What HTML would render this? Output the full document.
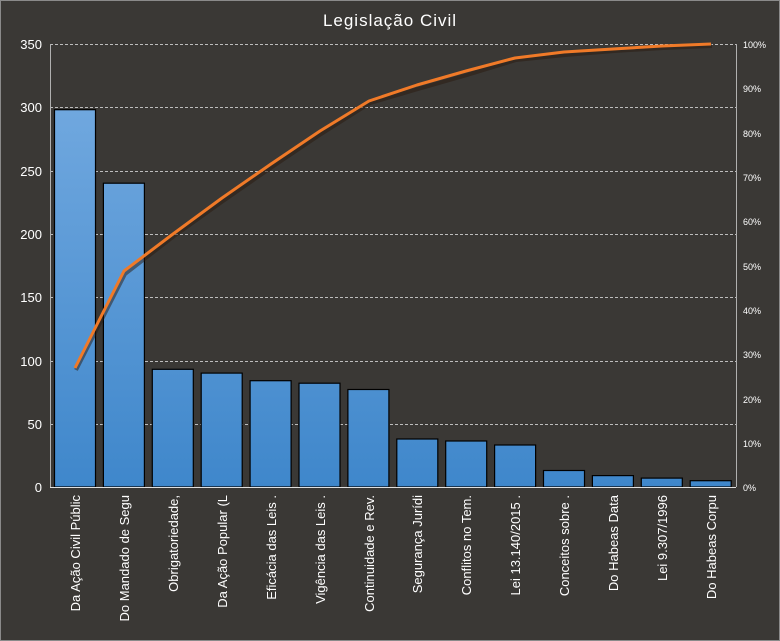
<!DOCTYPE html>
<html><head><meta charset="utf-8"><style>
html,body{margin:0;padding:0;background:#3a3835;}
svg{display:block;font-family:"Liberation Sans","DejaVu Sans",sans-serif;}
</style></head><body>
<svg width="780" height="641" viewBox="0 0 780 641" xmlns="http://www.w3.org/2000/svg">
<defs>
<linearGradient id="g" gradientUnits="userSpaceOnUse" x1="0" y1="44" x2="0" y2="487">
<stop offset="0" stop-color="#78ade2"/><stop offset="1" stop-color="#3f87cb"/>
</linearGradient>
</defs>
<rect x="0.5" y="0.5" width="779" height="640" fill="#3a3835" stroke="#8a8a8a"/>
<text x="390" y="26" fill="#ffffff" font-size="17" text-anchor="middle" letter-spacing="1">Legislação  Civil</text>
<g stroke="#bdbdbd" stroke-width="1" stroke-dasharray="3,2" fill="none">
<line x1="50" y1="44.5" x2="736" y2="44.5"/>
<line x1="50" y1="107.5" x2="736" y2="107.5"/>
<line x1="50" y1="171.5" x2="736" y2="171.5"/>
<line x1="50" y1="234.5" x2="736" y2="234.5"/>
<line x1="50" y1="297.5" x2="736" y2="297.5"/>
<line x1="50" y1="361.5" x2="736" y2="361.5"/>
<line x1="50" y1="424.5" x2="736" y2="424.5"/>
</g>
<line x1="50.5" y1="44" x2="50.5" y2="487" stroke="#b0b0b0"/>
<line x1="736.5" y1="44" x2="736.5" y2="487" stroke="#b0b0b0"/>
<g fill="#ffffff" font-size="13" text-anchor="end">
<text x="42" y="49">350</text><text x="42" y="112">300</text><text x="42" y="176">250</text>
<text x="42" y="239">200</text><text x="42" y="302">150</text><text x="42" y="366">100</text>
<text x="42" y="429">50</text><text x="42" y="492">0</text>
</g>
<g fill="#ffffff" font-size="9">
<text x="743" y="48">100%</text><text x="743" y="92">90%</text><text x="743" y="137">80%</text>
<text x="743" y="181">70%</text><text x="743" y="225">60%</text><text x="743" y="270">50%</text>
<text x="743" y="314">40%</text><text x="743" y="358">30%</text><text x="743" y="403">20%</text>
<text x="743" y="447">10%</text><text x="743" y="491">0%</text>
</g>
<g fill="url(#g)" stroke="#000" stroke-width="1.2">
<rect x="54.5" y="109.7" width="41" height="377.3"/>
<rect x="103.4" y="183.2" width="41" height="303.8"/>
<rect x="152.3" y="369.3" width="41" height="117.7"/>
<rect x="201.2" y="373.1" width="41" height="113.9"/>
<rect x="250.1" y="380.7" width="41" height="106.3"/>
<rect x="299" y="383.2" width="41" height="103.8"/>
<rect x="347.9" y="389.5" width="41" height="97.5"/>
<rect x="396.8" y="439" width="41" height="48"/>
<rect x="445.7" y="441" width="41" height="46"/>
<rect x="494.6" y="445" width="41" height="42"/>
<rect x="543.5" y="470.5" width="41" height="16.5"/>
<rect x="592.4" y="475.6" width="41" height="11.4"/>
<rect x="641.3" y="478.1" width="41" height="8.9"/>
<rect x="690.2" y="480.7" width="41" height="6.3"/>
</g>
<line x1="50" y1="487.5" x2="736" y2="487.5" stroke="#e0e0e0"/>
<polyline fill="none" stroke="#2a1a10" stroke-width="4" opacity="0.5" stroke-linejoin="round" points="76,370 125,274 174,236 223,201 272,167 321,134 370,103 418,89 467,75 516,60 565,55 614,51 663,48 712,46"/>
<polyline fill="none" stroke="#f07a28" stroke-width="3" stroke-linejoin="round" points="75,368 124,271 173,234 222,198 271,164 320,131 369,101 417,85 466,71 515,58 564,52 613,49 662,46 711,44"/>
<g fill="#ffffff" font-size="13" text-anchor="end">
<text transform="translate(80,495) rotate(-90)">Da Ação Civil Públic</text>
<text transform="translate(129,495) rotate(-90)">Do Mandado  de Segu</text>
<text transform="translate(178,495) rotate(-90)">Obrigatoriedade,</text>
<text transform="translate(227,495) rotate(-90)">Da Ação Popular (L</text>
<text transform="translate(276,495) rotate(-90)">Eficácia das Leis .</text>
<text transform="translate(325,495) rotate(-90)">Vigência das Leis .</text>
<text transform="translate(374,495) rotate(-90)">Continuidade  e Rev.</text>
<text transform="translate(422,495) rotate(-90)">Segurança Jurídi</text>
<text transform="translate(471,495) rotate(-90)">Conflitos no Tem.</text>
<text transform="translate(520,495) rotate(-90)">Lei 13.140/2015  .</text>
<text transform="translate(569,495) rotate(-90)">Conceitos sobre .</text>
<text transform="translate(618,495) rotate(-90)">Do Habeas Data</text>
<text transform="translate(667,495) rotate(-90)">Lei 9.307/1996</text>
<text transform="translate(716,495) rotate(-90)">Do Habeas Corpu</text>
</g>
</svg>
</body></html>
